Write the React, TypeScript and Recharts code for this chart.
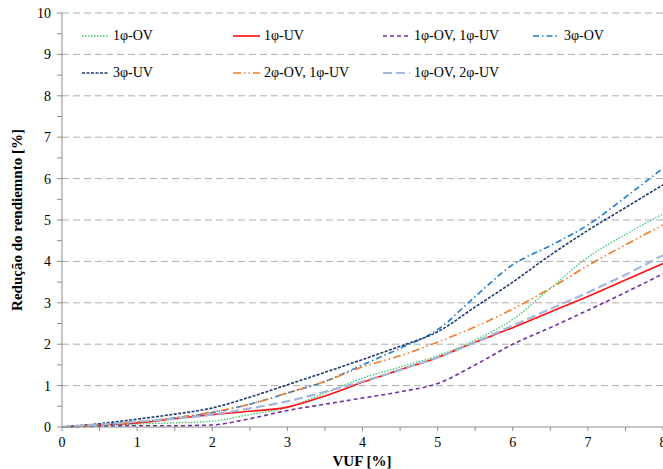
import React from 'react';
import { LineChart, Line, XAxis, YAxis, CartesianGrid, Label } from 'recharts';

const vuf = [0, 0.5, 1, 1.5, 2, 2.5, 3, 3.5, 4, 4.5, 5, 5.5, 6, 6.5, 7, 7.5, 8];
const s1OV = [0, 0.03, 0.07, 0.1, 0.14, 0.3, 0.47, 0.82, 1.18, 1.45, 1.72, 2.1, 2.6, 3.35, 4.1, 4.65, 5.15];
const s1UV = [0, 0.05, 0.1, 0.2, 0.3, 0.38, 0.48, 0.75, 1.08, 1.38, 1.68, 2.05, 2.4, 2.78, 3.15, 3.55, 3.95];
const s1OV1UV = [0, 0.02, 0.03, 0.03, 0.05, 0.2, 0.4, 0.55, 0.7, 0.85, 1.05, 1.5, 2.0, 2.4, 2.82, 3.25, 3.7];
const s3OV = [0, 0.05, 0.12, 0.22, 0.35, 0.55, 0.82, 1.1, 1.5, 1.9, 2.35, 3.15, 3.92, 4.38, 4.88, 5.55, 6.25];
const s3UV = [0, 0.08, 0.19, 0.31, 0.46, 0.72, 1.02, 1.32, 1.63, 1.95, 2.3, 2.9, 3.5, 4.15, 4.75, 5.3, 5.85];
const s2OV1UV = [0, 0.05, 0.12, 0.22, 0.36, 0.55, 0.82, 1.1, 1.45, 1.72, 2.05, 2.42, 2.85, 3.35, 3.9, 4.4, 4.88];
const s1OV2UV = [0, 0.06, 0.13, 0.2, 0.3, 0.45, 0.62, 0.85, 1.1, 1.38, 1.68, 2.05, 2.45, 2.85, 3.25, 3.68, 4.15];

const xTicks = [0, 0.5, 1, 1.5, 2, 2.5, 3, 3.5, 4, 4.5, 5, 5.5, 6, 6.5, 7, 7.5, 8];
const yTicks = [0, 0.5, 1, 1.5, 2, 2.5, 3, 3.5, 4, 4.5, 5, 5.5, 6, 6.5, 7, 7.5, 8, 8.5, 9, 9.5, 10];
const gridLines = [1, 2, 3, 4, 5, 6, 7, 8, 9, 10];

const seriesNames = ['1φ-OV', '1φ-UV', '1φ-OV, 1φ-UV', '3φ-OV', '3φ-UV', '2φ-OV, 1φ-UV', '1φ-OV, 2φ-UV'];

const styles = [
  { key: 'a', vals: s1OV, color: '#3CC46E', dash: '1.5 1.5', width: 1.3 },
  { key: 'b', vals: s1UV, color: '#FF1010', dash: undefined, width: 1.6 },
  { key: 'c', vals: s1OV1UV, color: '#7030A0', dash: '4 3', width: 1.6 },
  { key: 'd', vals: s3OV, color: '#1F7BC8', dash: '6 3 1.5 3', width: 1.6 },
  { key: 'e', vals: s3UV, color: '#1F3A6E', dash: '3 1.5', width: 1.6 },
  { key: 'f', vals: s2OV1UV, color: '#ED7D31', dash: '8 3 1.5 3 1.5 3', width: 1.6 },
  { key: 'g', vals: s1OV2UV, color: '#A4B6DA', dash: '9 4', width: 2.2 },
];

const data = vuf.map((x, i) => {
  const row: any = { x };
  styles.forEach((s) => { row[s.key] = s.vals[i]; });
  return row;
});

const font = 'Liberation Serif';

const legendPos = [
  { left: 82, top: 27 }, { left: 233, top: 27 }, { left: 383, top: 27 }, { left: 533, top: 27 },
  { left: 82, top: 64 }, { left: 233, top: 64 }, { left: 383, top: 64 },
];

export default function App() {
  return (
    <div style={{ position: 'absolute', left: 0, top: 0, width: 663, height: 469, background: '#fff', fontFamily: font }}>
      <LineChart width={663} height={469} data={data} margin={{ top: 13, right: 0, bottom: 0, left: 0 }} style={{ fontFamily: font }}>
        <CartesianGrid vertical={false} horizontalValues={gridLines} stroke="#ADADAD" strokeDasharray="7 4" strokeWidth={1} />
        <XAxis
          dataKey="x"
          type="number"
          domain={[0, 8]}
          ticks={xTicks}
          interval={0}
          allowDataOverflow
          height={42}
          tickSize={4}
          tickMargin={6}
          stroke="#8C8C8C"
          tick={{ fill: '#000', fontSize: 14, fontFamily: font, style: { fontFamily: font } }}
          tickFormatter={(v: number) => (Number.isInteger(v) ? String(v) : '')}
        >
          <Label
            content={() => (
              <text x={362} y={466} textAnchor="middle" style={{ fontFamily: font }} fontWeight="bold" fontSize={15} fill="#000">VUF [%]</text>
            )}
          />
        </XAxis>
        <YAxis
          type="number"
          domain={[0, 10]}
          ticks={yTicks}
          interval={0}
          width={62}
          tickSize={5}
          tickMargin={6}
          stroke="#8C8C8C"
          tick={{ fill: '#000', fontSize: 14, fontFamily: font, style: { fontFamily: font } }}
          tickFormatter={(v: number) => (Number.isInteger(v) ? String(v) : '')}
        >
          <Label
            content={() => (
              <text x={0} y={0} transform="translate(22,220) rotate(-90)" textAnchor="middle" style={{ fontFamily: font }} fontWeight="bold" fontSize={15} fill="#000">Redução do rendiemnto [%]</text>
            )}
          />
        </YAxis>
        {styles.map((s, i) => (
          <Line
            key={s.key}
            dataKey={s.key}
            name={seriesNames[i]}
            type="monotone"
            stroke={s.color}
            strokeWidth={s.width}
            strokeDasharray={s.dash}
            dot={false}
            activeDot={false}
            isAnimationActive={false}
          />
        ))}
      </LineChart>
      {styles.map((s, i) => (
        <div
          key={s.key}
          style={{ position: 'absolute', left: legendPos[i].left, top: legendPos[i].top, display: 'flex', alignItems: 'center', fontFamily: font, fontSize: 14, color: '#000', whiteSpace: 'nowrap' }}
        >
          <svg width={27} height={18} style={{ marginRight: 4 }}>
            <line x1={0} y1={9} x2={27} y2={9} stroke={s.color} strokeWidth={s.width} strokeDasharray={s.dash} />
          </svg>
          <span>{seriesNames[i]}</span>
        </div>
      ))}
    </div>
  );
}
